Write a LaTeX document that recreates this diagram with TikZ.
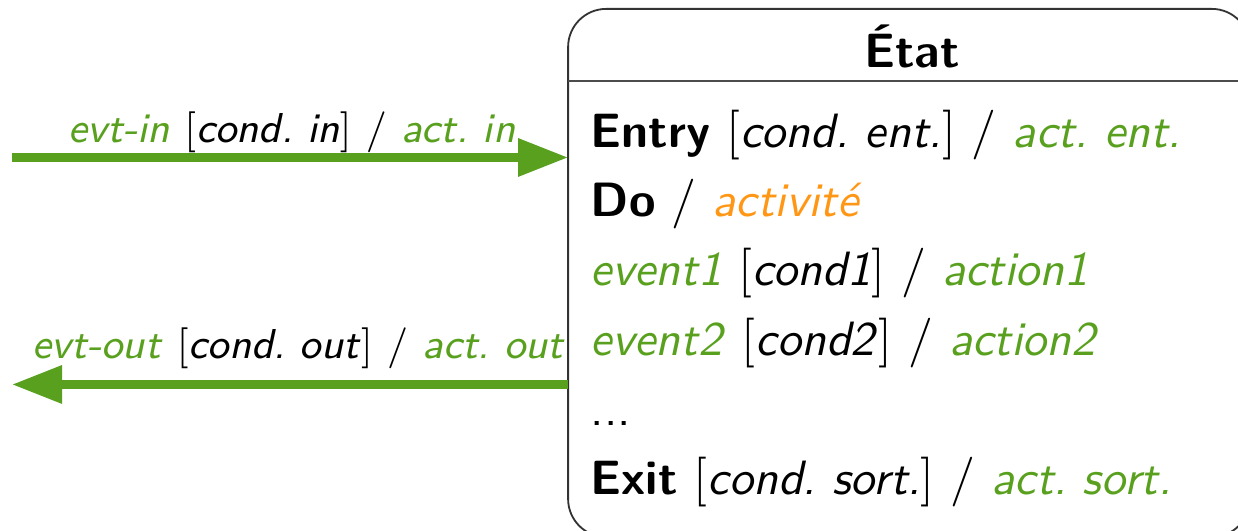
\documentclass[tikz,border=0pt]{standalone}
\usepackage{tikz}
\usetikzlibrary{arrows.meta,positioning}
\usepackage{xcolor}
\definecolor{vertevt}{RGB}{88,160,30}
\definecolor{orangeact}{RGB}{255,150,20}
\newcommand{\evt}[1]{\textcolor{vertevt}{\textit{#1}}}
\newcommand{\cnd}[1]{$[$\textit{#1}$]$}
\frenchspacing

\begin{document}
\begin{tikzpicture}[x=22pt, y=22pt, font=\sffamily,
  fleche/.style={vertevt, line width=1.83pt, -{Triangle[length=11pt,width=8pt]}},
  etatbox/.style={draw=black!80, line width=0.4pt, rounded corners=8.4pt, inner sep=0pt, outer sep=0pt,
    minimum width=150pt, minimum height=116.2pt},
  ligne/.style={anchor=base west, inner sep=0pt, font=\sffamily\fontsize{10.6}{12}\selectfont},
  etiquette/.style={anchor=base, inner sep=0pt, font=\sffamily\fontsize{9.2}{11}\selectfont}]
\useasboundingbox (0,0) rectangle (12.38,5.31);

% l'etat
\node[etatbox] (etat) at (9.09,2.58) {};
\node[anchor=base, inner sep=0pt, font=\sffamily\bfseries\fontsize{10.6}{12}\selectfont] (titre) at (9.12,4.63) {État};
\coordinate (sep) at (0,4.50);
\draw[black!70, line width=0.5pt] (sep -| etat.west) -- (sep -| etat.east);

\node[ligne] (entry) at (5.90,3.83) {\textbf{Entry} \cnd{cond. ent.} $/$ \evt{act. ent.}};
\node[ligne] (do) at (5.90,3.14) {\textbf{Do} $/$ \textcolor{orangeact}{\textit{activité}}};
\node[ligne] (ev1) at (5.90,2.45) {\evt{event1} \cnd{cond1} $/$ \evt{action1}};
\node[ligne] (ev2) at (5.90,1.75) {\evt{event2} \cnd{cond2} $/$ \evt{action2}};
\node[ligne] (etc) at (5.90,1.05) {...};
\node[ligne] (exit) at (5.90,0.36) {\textbf{Exit} \cnd{cond. sort.} $/$ \evt{act. sort.}};

% transitions
\coordinate (in) at (0.12,3.735);
\coordinate (out) at (0.12,1.465);
\draw[fleche] (in) -- (in -| etat.west);
\draw[fleche] (out -| etat.west) -- (out);
\node[etiquette] (lblin) at (2.92,3.887) {\evt{evt-in} \cnd{cond. in} $/$ \evt{act. in}};
\node[etiquette] (lblout) at (2.99,1.727) {\evt{evt-out} \cnd{cond. out} $/$ \evt{act. out}};
\end{tikzpicture}
\end{document}
